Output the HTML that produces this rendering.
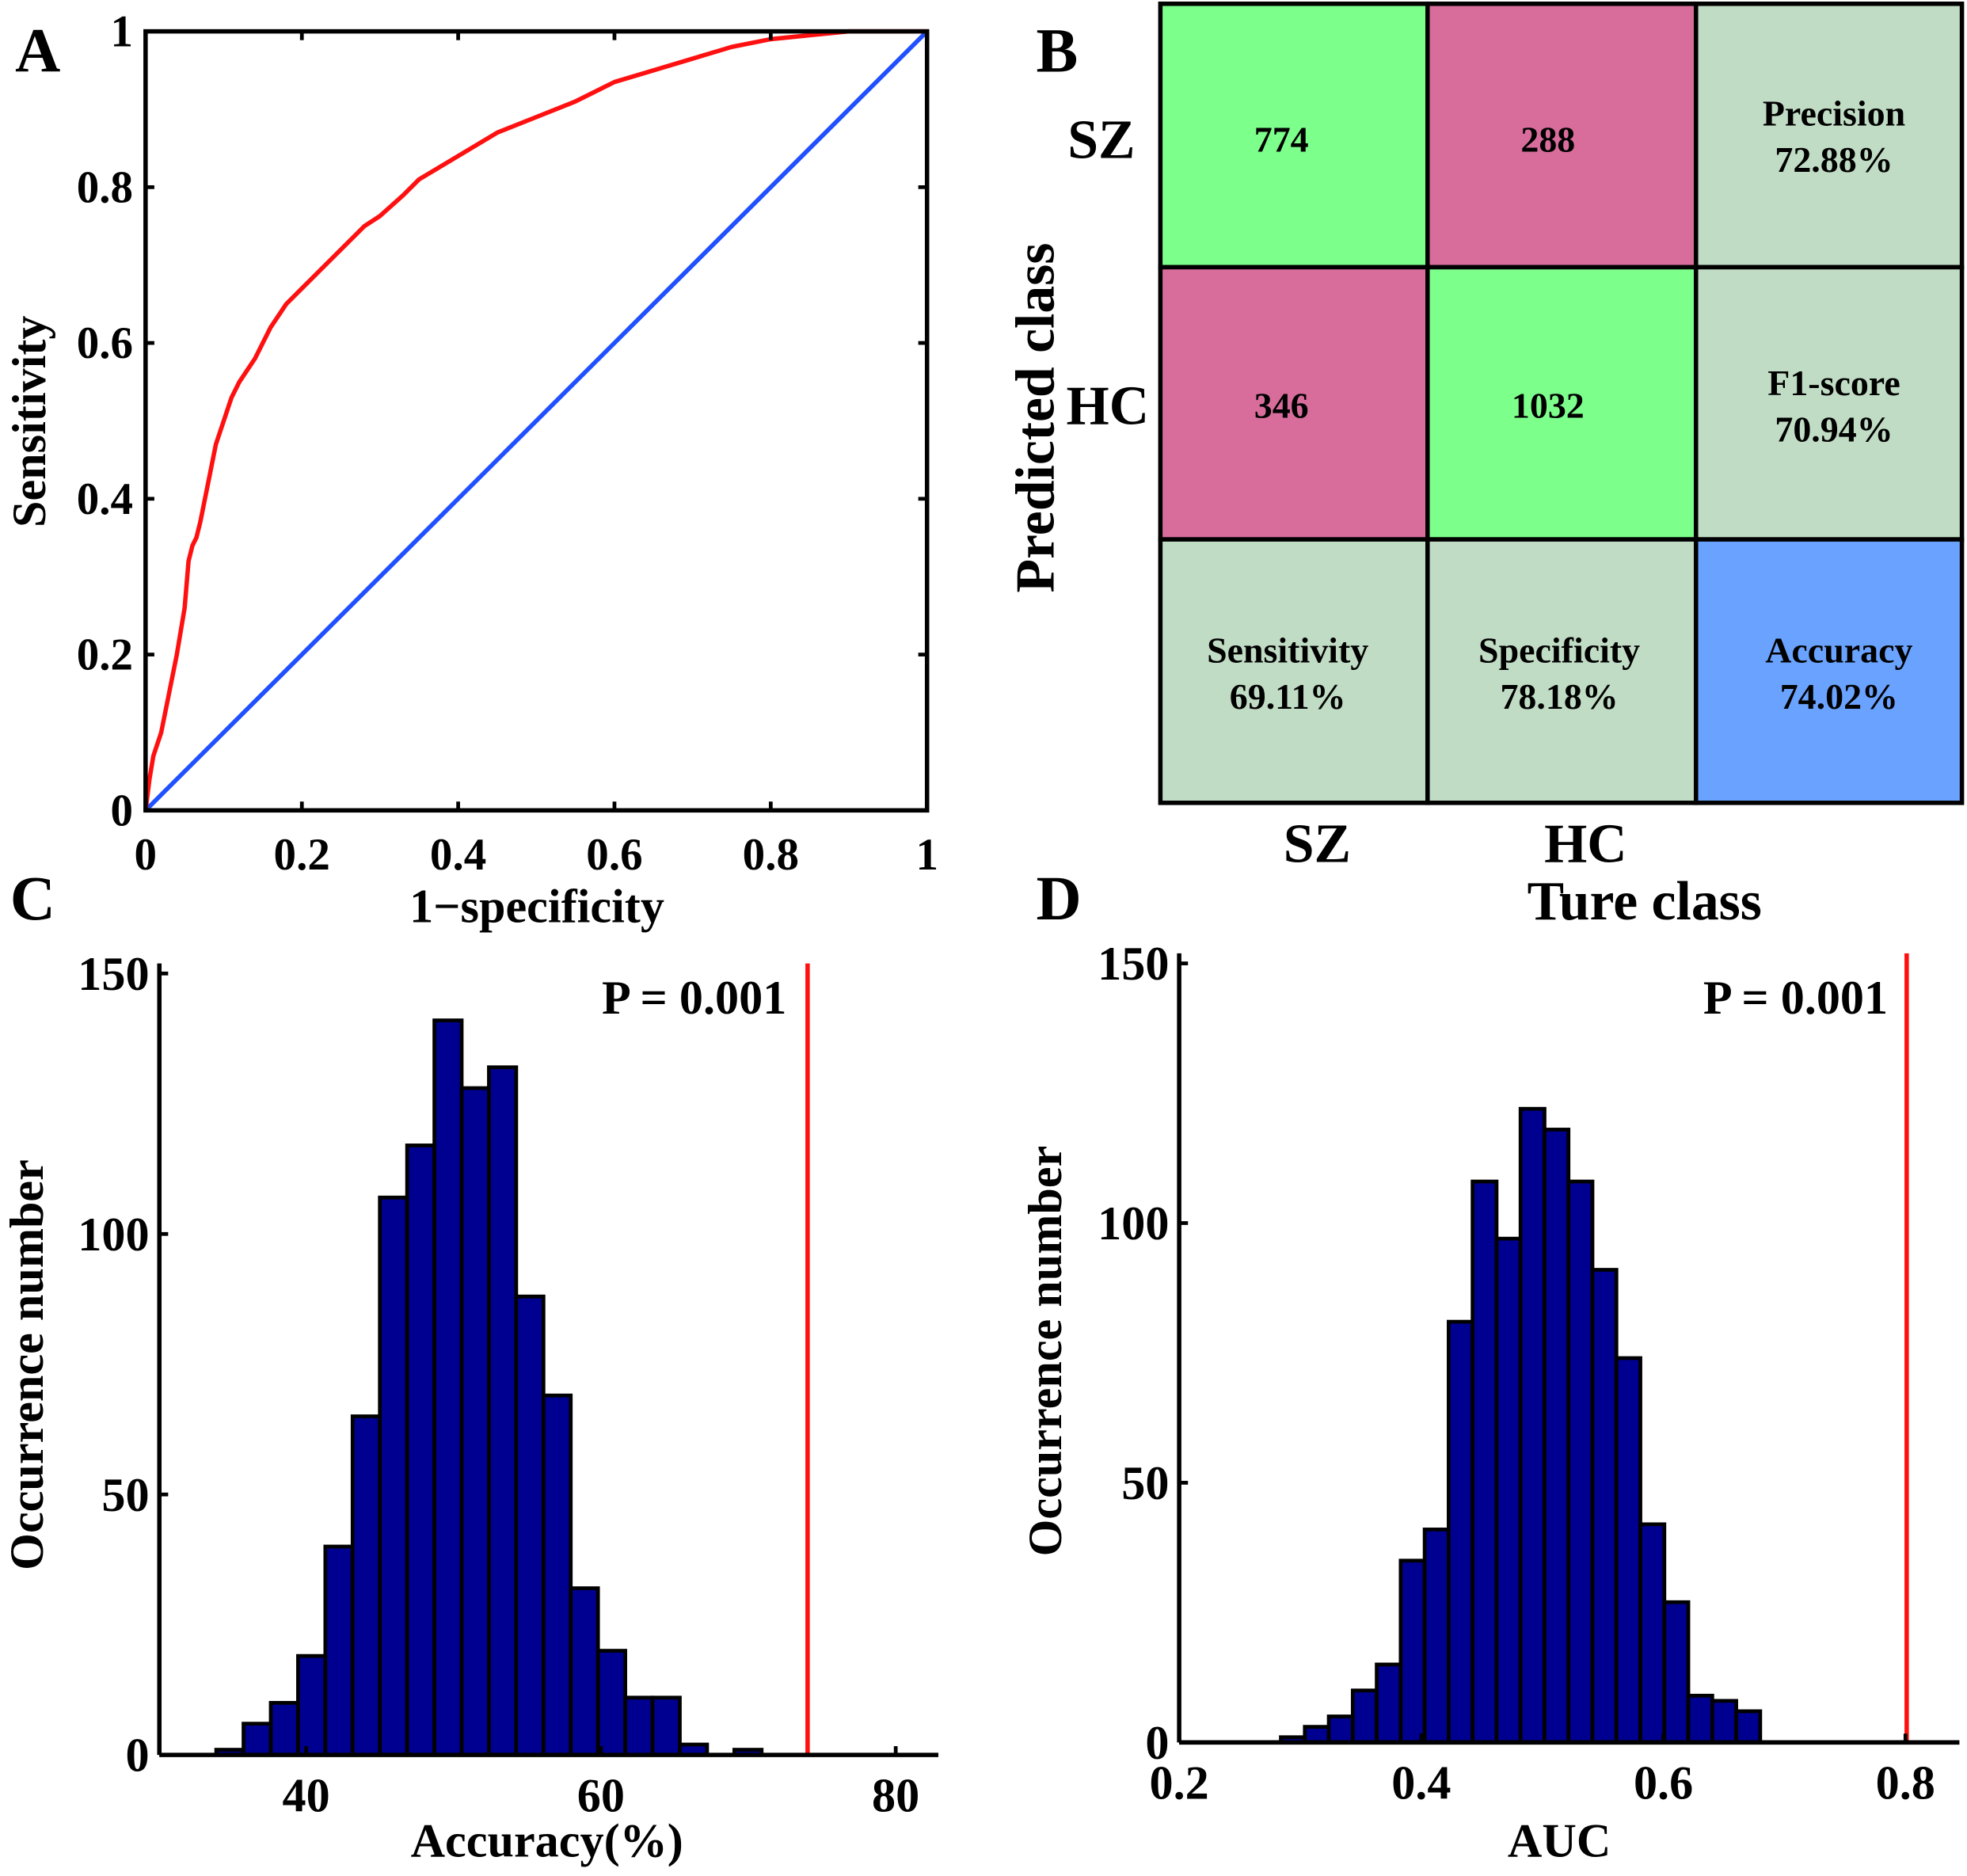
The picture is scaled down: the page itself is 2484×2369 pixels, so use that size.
<!DOCTYPE html>
<html><head><meta charset="utf-8">
<style>
html,body{margin:0;padding:0;background:#fff;}
svg{display:block;}
text{font-family:"Liberation Serif",serif;font-weight:bold;fill:#000;}
</style></head>
<body>
<svg id="fig" width="2484" height="2369" viewBox="0 0 1568 1495.5" xmlns="http://www.w3.org/2000/svg">
<rect width="1568" height="1496" fill="#fff"/>
<g id="pA"></g>
<g id="pB"></g>
<g id="pC"></g>
<g id="pD"></g>
</svg>
<script>
// ROC data
const rocFpr = [0,0.005,0.01,0.015,0.02,0.03,0.04,0.05,0.055,0.06,0.065,0.07,0.08,0.09,0.1,0.11,0.12,0.14,0.16,0.18,0.2,0.22,0.25,0.28,0.3,0.33,0.35,0.4,0.45,0.5,0.55,0.6,0.65,0.7,0.75,0.8,0.85,0.9,1];
const rocTpr = [0,0.04,0.07,0.085,0.1,0.15,0.2,0.26,0.32,0.34,0.35,0.37,0.42,0.47,0.5,0.53,0.55,0.58,0.62,0.65,0.67,0.69,0.72,0.75,0.763,0.79,0.81,0.84,0.87,0.89,0.91,0.935,0.95,0.965,0.98,0.99,0.995,1,1];
const rocTicks = ["0","0.2","0.4","0.6","0.8","1"];
// Confusion matrix data
const cmCells = ["774","288","346","1032"];
const cmMetrics = [["Precision","72.88%"],["F1-score","70.94%"],["Sensitivity","69.11%"],["Specificity","78.18%"],["Accuracy","74.02%"]];
// Histogram C
const accCounts = [1,6,10,19,40,65,107,117,141,128,132,88,69,32,20,11,11,2,0,1];
const accStart = 33.9;
const accBin = 1.85;
const accTicks = [40,60,80];
const accYTicks = [0,50,100,150];
const accObserved = 74.02;
// Histogram D
const aucCounts = [1,3,5,10,15,35,41,81,108,97,122,118,108,91,74,42,27,9,8,6];
const aucStart = 0.284;
const aucBin = 0.0198;
const aucTicks = ["0.2","0.4","0.6","0.8"];
const aucYTicks = [0,50,100,150];
const aucObserved = 0.801;

const NS="http://www.w3.org/2000/svg";
function mk(parent,tag,attrs,txt){const e=document.createElementNS(NS,tag);for(const k in attrs)e.setAttribute(k,attrs[k]);if(txt!==undefined)e.textContent=txt;parent.appendChild(e);return e;}

// Panel A
(function(){
const g=document.getElementById('pA');
const X0=116,X1=739,Y0=646,Y1=25;
const sx=v=>X0+v*(X1-X0), sy=v=>Y0-v*(Y0-Y1);
let t=mk(g,'text',{x:12,y:57,'font-size':50},'A');


let d=mk(g,'line',{x1:sx(0),y1:sy(0),x2:sx(1),y2:sy(1),stroke:'#2050ff','stroke-width':3.5});


let pts=rocFpr.map((f,i)=>sx(f)+','+sy(rocTpr[i])).join(' ');
let c=mk(g,'polyline',{points:pts,fill:'none',stroke:'#ff1010','stroke-width':3.5,'stroke-linejoin':'round'});


rocTicks.forEach((lab,i)=>{const v=i/5;
 mk(g,'line',{x1:sx(v),y1:Y0,x2:sx(v),y2:Y0-7,stroke:'#000','stroke-width':3});
 mk(g,'line',{x1:sx(v),y1:Y1,x2:sx(v),y2:Y1+7,stroke:'#000','stroke-width':3});
 mk(g,'line',{x1:X0,y1:sy(v),x2:X0+7,y2:sy(v),stroke:'#000','stroke-width':3});
 mk(g,'line',{x1:X1,y1:sy(v),x2:X1-7,y2:sy(v),stroke:'#000','stroke-width':3});
 let a=mk(g,'text',{x:sx(v),y:693,'font-size':36,'text-anchor':'middle'},lab);
 
 
 let b=mk(g,'text',{x:106,y:sy(v)+12,'font-size':36,'text-anchor':'end'},lab);
 
 
});
let box=mk(g,'rect',{x:X0,y:Y1,width:X1-X0,height:Y0-Y1,fill:'none',stroke:'#000','stroke-width':3.5});


let xt=mk(g,'text',{x:428,y:735,'font-size':38,'text-anchor':'middle'},'1\u2212specificity');


let yt=mk(g,'text',{x:0,y:0,'font-size':38,'text-anchor':'middle',transform:'translate(36,336) rotate(-90)'},'Sensitivity');


})();

// Panel B
(function(){
const g=document.getElementById('pB');
const xs=[925,1138,1352,1564], ys=[3,213,430,640];
const G='#7dff8c',P='#d86d9c',S='#c0dcc4',B='#6aa3ff';
const cols=[[G,P,S],[P,G,S],[S,S,B]];
let t=mk(g,'text',{x:826,y:57,'font-size':50},'B');


const texts=[[[cmCells[0]],[cmCells[1]],cmMetrics[0]],[[cmCells[2]],[cmCells[3]],cmMetrics[1]],[cmMetrics[2],cmMetrics[3],cmMetrics[4]]];
const dx=[[-10,-11,4],[-10,-11,4],[-5,-2,8]];
const baseSingle=[121,333];
const baseMulti=[100,315,528];
for(let r=0;r<3;r++)for(let k=0;k<3;k++){
 let rc=mk(g,'rect',{x:xs[k],y:ys[r],width:xs[k+1]-xs[k],height:ys[r+1]-ys[r],fill:cols[r][k],stroke:'#000','stroke-width':3.5});
 
 
 const lines=texts[r][k];const cx=(xs[k]+xs[k+1])/2+dx[r][k];
 lines.forEach((s,i)=>{
  const yy=lines.length==1?baseSingle[r]:baseMulti[r]+i*37;
  let tt=mk(g,'text',{x:cx,y:yy,'font-size':29,'text-anchor':'middle'},s);
  
  
 });
}
[['SZ',878,126],['HC',883,338]].forEach(a=>{let e=mk(g,'text',{x:a[1],y:a[2],'font-size':44,'text-anchor':'middle'},a[0]);
 
 });
[['SZ',1050,687],['HC',1264,687]].forEach(a=>{let e=mk(g,'text',{x:a[1],y:a[2],'font-size':44,'text-anchor':'middle'},a[0]);
 
 });
let xt=mk(g,'text',{x:1311,y:733,'font-size':44,'text-anchor':'middle'},'Ture class');


let yt=mk(g,'text',{x:0,y:0,'font-size':44,'text-anchor':'middle',transform:'translate(840,333) rotate(-90)'},'Predicted class');


})();

function hist(gid,label,lx,X0,X1,Y0,xmin,xppu,yppu,counts,start,bin,ticks,tickVals,yTicks,obs,xTitle,xTitleX,yTitleX,yTitleY,pX){
const g=document.getElementById(gid);
const sx=v=>X0+(v-xmin)*xppu, sy=v=>Y0-v*yppu;
let t=mk(g,'text',{x:lx,y:733,'font-size':50},label);


counts.forEach((c,i)=>{
 if(c<=0)return;
 const a=sx(start+i*bin),b=sx(start+(i+1)*bin);
 let r=mk(g,'rect',{x:a,y:sy(c),width:b-a,height:sy(0)-sy(c),fill:'#000090',stroke:'#000','stroke-width':3});
 
 
});
let rl=mk(g,'line',{x1:sx(obs),y1:sy(150)-8,x2:sx(obs),y2:Y0,stroke:'#ff1010','stroke-width':3.5});


let ax=mk(g,'line',{x1:X0,y1:Y0,x2:X1,y2:Y0,stroke:'#000','stroke-width':3.5});


let ay=mk(g,'line',{x1:X0,y1:Y0,x2:X0,y2:sy(150)-8,stroke:'#000','stroke-width':3.5});


ticks.forEach((lab,i)=>{const x=sx(tickVals[i]);
 mk(g,'line',{x1:x,y1:Y0,x2:x,y2:Y0-7,stroke:'#000','stroke-width':3});
 let e=mk(g,'text',{x:x,y:Y0+45,'font-size':38,'text-anchor':'middle'},lab);
 
 });
yTicks.forEach(v=>{
 mk(g,'line',{x1:X0,y1:sy(v),x2:X0+7,y2:sy(v),stroke:'#000','stroke-width':3});
 let e=mk(g,'text',{x:X0-8,y:sy(v)+13,'font-size':38,'text-anchor':'end'},String(v));
 
 });
let xt=mk(g,'text',{x:xTitleX,y:1480,'font-size':38,'text-anchor':'middle'},xTitle);


let yt=mk(g,'text',{x:0,y:0,'font-size':38,'text-anchor':'middle',transform:'translate('+yTitleX+','+yTitleY+') rotate(-90)'},'Occurrence number');


let p=mk(g,'text',{x:pX,y:808,'font-size':38,'text-anchor':'end'},'P = 0.001');


}
hist('pC','C',8,127,748,1399,30.04,11.75,4.153,accCounts,accStart,accBin,accTicks.map(String),accTicks,accYTicks,accObserved,'Accuracy(%)',436,34,1088,627);
hist('pD','D',826,940,1562,1389,0.2,965,4.14,aucCounts,aucStart,aucBin,aucTicks,aucTicks.map(Number),aucYTicks,aucObserved,'AUC',1243,846,1077,1505);
</script>
</body></html>
